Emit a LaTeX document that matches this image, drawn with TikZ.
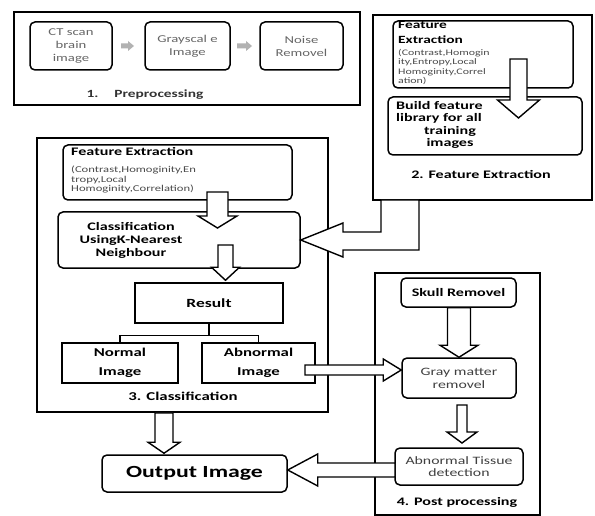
\documentclass[tikz,border=0pt]{standalone}
\usepackage{fontspec}
\setmainfont{Carlito}[FakeStretch=1.4]
\usetikzlibrary{calc}
\tikzset{
  outer/.style={draw, line width=1.9pt},
  ibox/.style={draw, line width=1.5pt, rounded corners=5pt},
  sbox/.style={draw, line width=1.5pt},
  blk/.style={draw, fill=white, line width=1.4pt, line join=miter},
  gblk/.style={fill=black!30},
  tline/.style={draw, line width=1.4pt},
  pretxt/.style={font=\fontsize{10.5}{13}\selectfont, text=black!60, align=center},
  btxt/.style={font=\bfseries\fontsize{11.5}{12.5}\selectfont, align=center},
  rtxt/.style={font=\fontsize{11.3}{12.5}\selectfont, text=black!75, align=center},
  smalltxt/.style={font=\fontsize{8.5}{9.5}\selectfont, text=black!70, align=left, inner sep=0pt},
}
\newcommand\boxat[7]{\node[#2, minimum width={#5-#3}, minimum height={#6-#4}, inner sep=0pt] (#1) at ({(#3+#5)/2},{(#4+#6)/2}) {#7};}
% down arrow: #1 top point, #2 tip point, #3 shaft half, #4 head half, #5 head length
\newcommand\blkdn[5]{\path[blk] let \p1=#1, \p2=#2 in (\x2-#3pt,\y1) -- (\x2-#3pt,\y2+#5pt) -- (\x2-#4pt,\y2+#5pt) -- (\x2,\y2) -- (\x2+#4pt,\y2+#5pt) -- (\x2+#3pt,\y2+#5pt) -- (\x2+#3pt,\y1) -- cycle;}
\newcommand\blkrt[5]{\path[blk] let \p1=#1, \p2=#2 in (\x1,\y2+#3pt) -- (\x2-#5pt,\y2+#3pt) -- (\x2-#5pt,\y2+#4pt) -- (\x2,\y2) -- (\x2-#5pt,\y2-#4pt) -- (\x2-#5pt,\y2-#3pt) -- (\x1,\y2-#3pt) -- cycle;}
\newcommand\blklt[5]{\path[blk] let \p1=#1, \p2=#2 in (\x1,\y2+#3pt) -- (\x2+#5pt,\y2+#3pt) -- (\x2+#5pt,\y2+#4pt) -- (\x2,\y2) -- (\x2+#5pt,\y2-#4pt) -- (\x2+#5pt,\y2-#3pt) -- (\x1,\y2-#3pt) -- cycle;}
\newcommand\gryrt[2]{\path[gblk] let \p1=#1, \p2=#2 in (\x1,\y1+2.5pt) -- (\x2-6pt,\y1+2.5pt) -- (\x2-6pt,\y1+5pt) -- (\x2,\y1) -- (\x2-6pt,\y1-5pt) -- (\x2-6pt,\y1-2.5pt) -- (\x1,\y1-2.5pt) -- cycle;}
\begin{document}
\begin{tikzpicture}[x=1pt,y=-1pt]
\useasboundingbox (0,0) rectangle (595,516);
\fill[white] (0,0) rectangle (595,516);

% ---------- 1. Preprocessing ----------
\boxat{pre}{outer}{14}{12}{360}{105}{}
\boxat{ct}{ibox}{30}{22}{112}{70}{}
\node[pretxt] (cttxt) at (ct.center) {CT scan\\brain\\image};
\boxat{gray}{ibox}{145}{22}{230}{70}{}
\node[pretxt] (graytxt) at (gray.center) {Grayscal e\\Image};
\boxat{noise}{ibox}{260}{22}{343}{70}{}
\node[pretxt] (noisetxt) at (noise.center) {Noise\\Removel};
\coordinate (g1a) at (121,46); \coordinate (g1b) at (134,46);
\coordinate (g2a) at (237,46); \coordinate (g2b) at (252,46);
\gryrt{(g1a)}{(g1b)}
\gryrt{(g2a)}{(g2b)}
\node[font=\bfseries\fontsize{11}{12}\selectfont, text=black!80, anchor=west] (prelbl) at (83,95) {1.\hspace{16pt}Preprocessing};

% ---------- 2. Feature Extraction ----------
\boxat{fex}{outer}{373}{15}{592}{200}{}
\boxat{feB}{ibox}{393}{21}{573}{88}{}
\node[font=\bfseries\fontsize{11}{15}\selectfont, align=left, anchor=north west, inner sep=0pt] (feBt) at (398,21) {Feature\\Extraction};
\node[smalltxt, anchor=north west] (feBs) at (398,49) {(Contrast,Homogin\\ity,Entropy,Local\\Homoginity,Correl\\ation)};
\boxat{build}{ibox}{388}{97}{582}{155}{}
\node[btxt, align=left, anchor=north west, inner sep=0pt] (buildt1) at (396,101) {Build feature\\library for all};
\node[btxt, inner sep=0pt, anchor=north] (buildt2) at (450,126) {training\\images};
\coordinate (bA) at (518.5,59); \coordinate (bB) at (518.5,118);
\blkdn{(bA)}{(bB)}{8.5}{21}{18}
\node[btxt] (fexlbl) at (481,174) {2. Feature Extraction};

% ---------- 3. Classification ----------
\boxat{cls}{outer}{37}{138}{328}{412}{}
\boxat{feC}{ibox}{63}{145}{292}{200}{}
\node[font=\bfseries\fontsize{11.5}{12.5}\selectfont, anchor=north west, inner sep=0pt] (feCt) at (71,147) {Feature Extraction};
\node[smalltxt, anchor=north west, font=\fontsize{9}{9.6}\selectfont] (feCs) at (71,166) {(Contrast,Homoginity,En\\tropy,Local\\Homoginity,Correlation)};
\boxat{knn}{ibox}{58}{212}{300}{268}{}
\node[btxt, font=\bfseries\fontsize{11.5}{13}\selectfont] (knnt) at (131,240) {Classification\\UsingK-Nearest\\Neighbour};
\coordinate (cA) at (217.5,192); \coordinate (cB) at (217.5,228);
\blkdn{(cA)}{(cB)}{10.5}{19.5}{12}
\boxat{res}{sbox}{135}{283}{283}{323}{\bfseries\fontsize{12.5}{14}\selectfont Result}
\coordinate (rA) at (225.5,245);
\blkdn{(rA)}{($(res.north)+(16.5,-2)$)}{7.5}{14}{13}
\boxat{norm}{sbox}{62}{343}{178}{383}{}
\node[btxt, font=\bfseries\fontsize{12}{19}\selectfont] (normt) at (norm.center) {Normal\\Image};
\boxat{abn}{sbox}{202}{343}{315}{383}{}
\node[btxt, font=\bfseries\fontsize{12}{19}\selectfont] (abnt) at (abn.center) {Abnormal\\Image};
\draw[tline] (res.south) -- ++(0,12) -| (norm.north);
\draw[tline] (res.south) -- ++(0,12) -| (abn.north);
\node[btxt, font=\bfseries\fontsize{12}{13}\selectfont] (clslbl) at (183,396) {3. Classification};

% ---------- 4. Post processing ----------
\boxat{post}{outer}{375}{273}{540}{515}{}
\boxat{skull}{ibox}{401}{278}{516}{307}{\bfseries\fontsize{11.5}{12.5}\selectfont Skull Removel}
\boxat{gm}{ibox}{402}{358}{516}{398}{}
\node[rtxt, font=\fontsize{11.3}{13}\selectfont] (gmt) at (gm.center) {Gray matter\\removel};
\boxat{at}{ibox}{395}{448}{523}{485}{}
\node[rtxt, font=\fontsize{11.3}{11.5}\selectfont] (att) at (at.center) {Abnormal Tissue\\detection};
\blkdn{(skull.south)}{(gm.north)}{11.5}{19}{12}
\coordinate (pA) at (462,405); \coordinate (pB) at (462,443);
\blkdn{(pA)}{(pB)}{5}{15}{11}
\node[btxt] (postlbl) at (457,502) {4. Post processing};

% ---------- Output ----------
\boxat{out}{ibox}{102}{455}{287}{492}{\bfseries\fontsize{17}{18}\selectfont Output Image}

% ---------- Inter-section arrows ----------
\coordinate (e1) at (381,200); \coordinate (e2) at (419,200);
\path[blk] (e1) -- (381,232) -- (343,232) -- (343,223) -- (knn.east |- 0,240) -- (343,257) -- (343,250) -- (419,250) -- (e2) -- cycle;
\coordinate (aA) at (305,370);
\blkrt{(aA)}{(gm.west |- aA)}{5}{11}{18}
\coordinate (oA) at (395,470);
\blklt{(oA)}{(out.east |- oA)}{7}{16}{30}
\blkdn{($(cls.south)+(-18.5,0)$)}{($(out.north)+(-30.5,-1)$)}{9}{16}{11}
\end{tikzpicture}
\end{document}
